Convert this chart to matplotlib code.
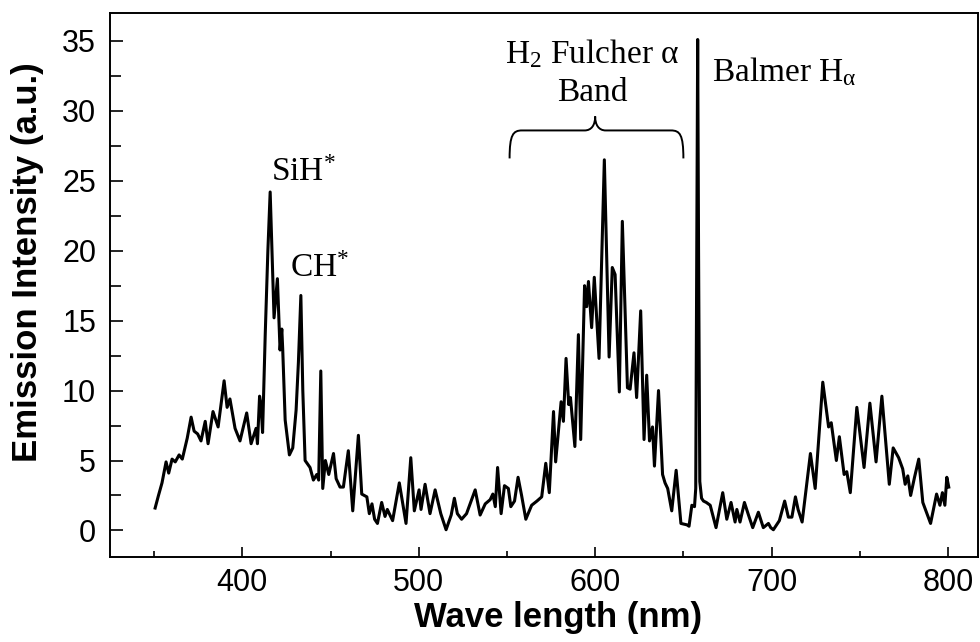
import numpy as np
import matplotlib.pyplot as plt
from matplotlib.path import Path
from matplotlib.patches import PathPatch
from matplotlib.ticker import MultipleLocator

# Spectrum (wavelength in nm, intensity in a.u.)
wavelength = [
    350.6, 352.5, 354.5, 356.8, 358.3, 360.2, 362.0, 364.2, 366.0, 368.8,
    371.0, 372.7, 374.7, 376.6, 379.0, 380.6, 383.4, 386.3, 389.7, 391.4,
    393.0, 395.9, 398.7, 402.5, 405.0, 407.8, 408.6, 409.8, 410.6, 411.5,
    413.0, 414.5, 415.8, 416.8, 418.0, 419.9, 421.4, 422.4, 422.9, 424.3,
    426.7, 428.6, 430.5, 431.8, 433.2, 434.3, 435.6, 438.4, 440.3, 442.2,
    443.3, 444.5, 445.6, 447.1, 449.0, 451.7, 453.2, 455.4, 457.3, 460.1,
    462.6, 465.8, 467.7, 470.6, 472.0, 473.5, 475.0, 476.6, 479.0, 480.9,
    482.2, 485.2, 489.0, 492.8, 495.5, 497.5, 500.2, 501.3, 503.6, 506.4,
    509.3, 512.5, 515.5, 518.4, 520.2, 521.9, 524.3, 527.1, 529.1, 532.0,
    534.8, 537.7, 540.5, 542.0, 543.4, 544.7, 546.7, 548.6, 550.8, 552.2,
    554.3, 556.3, 558.3, 560.7, 564.0, 567.0, 569.7, 572.0, 574.0, 576.4,
    577.6, 580.7, 582.0, 583.5, 585.0, 586.0, 588.5, 590.5, 591.8, 594.0,
    595.2, 596.2, 598.0, 599.5, 602.2, 605.2, 607.9, 609.7, 611.3, 613.7,
    615.4, 618.3, 619.8, 622.0, 623.5, 625.8, 627.7, 629.2, 630.8, 632.5,
    633.6, 635.9, 638.2, 639.6, 641.1, 643.4, 645.9, 648.6, 652.0, 653.2,
    654.8, 656.3, 657.0, 657.6, 658.1, 658.6, 659.3, 660.3, 661.4, 663.0,
    665.2, 668.5, 672.3, 674.6, 677.0, 679.3, 680.3, 682.1, 684.6, 686.9,
    689.3, 692.5, 695.3, 698.2, 699.5, 701.0, 704.4, 707.4, 709.5, 711.5,
    713.5, 715.0, 717.3, 722.0, 724.7, 729.0, 732.3, 733.8, 736.7, 738.4,
    741.1, 742.6, 744.6, 748.3, 752.4, 755.7, 759.2, 762.5, 766.7, 768.9,
    772.0, 774.3, 775.7, 777.2, 778.8, 781.0, 783.4, 785.7, 790.1, 793.5,
    795.4, 796.8, 798.2, 799.3, 800.4,
]
intensity = [
    1.6, 2.5, 3.4, 4.9, 4.1, 5.1, 4.9, 5.4, 5.1, 6.6,
    8.1, 7.1, 6.9, 6.4, 7.8, 6.2, 8.5, 7.4, 10.7, 8.8,
    9.4, 7.3, 6.4, 8.4, 6.2, 7.3, 6.2, 9.6, 9.0, 7.0,
    14.0, 20.0, 24.2, 20.0, 15.2, 18.0, 12.9, 14.4, 13.0, 7.9,
    5.4, 5.9, 8.6, 12.0, 16.8, 10.0, 5.0, 4.5, 3.6, 4.0,
    3.6, 11.4, 3.0, 5.0, 4.0, 5.5, 3.7, 3.1, 3.1, 5.7,
    1.4, 6.8, 2.6, 2.4, 1.2, 1.9, 0.8, 0.5, 2.0, 1.0,
    1.5, 0.7, 3.4, 0.5, 5.2, 1.4, 2.9, 1.5, 3.3, 1.2,
    2.9, 1.2, 0.05, 1.1, 2.3, 1.2, 0.8, 1.2, 1.9, 2.9,
    1.1, 1.9, 2.2, 2.6, 1.7, 4.5, 1.2, 3.2, 3.0, 1.7,
    2.1, 3.8, 2.5, 0.8, 1.8, 2.1, 2.4, 4.8, 2.7, 8.5,
    4.9, 9.2, 7.8, 12.3, 9.0, 9.5, 6.0, 14.0, 6.5, 17.5,
    16.0, 17.8, 14.5, 18.1, 12.3, 26.5, 12.4, 18.8, 18.3, 9.9,
    22.1, 10.2, 10.1, 12.7, 9.5, 15.7, 6.5, 11.1, 6.4, 7.4,
    4.6, 10.0, 4.0, 3.4, 3.0, 1.4, 4.3, 0.5, 0.4, 0.3,
    1.8, 1.7, 3.0, 20.0, 35.1, 20.0, 3.5, 2.3, 2.1, 2.0,
    1.8, 0.2, 2.7, 0.8, 2.0, 0.6, 1.5, 0.6, 2.0, 1.1,
    0.2, 1.3, 0.2, 0.5, 0.2, 0.05, 0.7, 2.1, 0.95, 0.95,
    2.4, 1.5, 0.6, 5.5, 3.0, 10.6, 7.4, 7.7, 5.0, 6.7,
    4.0, 4.2, 2.7, 8.8, 4.5, 9.1, 4.9, 9.6, 3.3, 5.9,
    5.2, 4.4, 3.3, 3.9, 2.5, 3.8, 5.1, 2.0, 0.5, 2.6,
    1.8, 2.7, 1.8, 3.8, 3.1,
]

plt.rcParams['mathtext.fontset'] = 'custom'
plt.rcParams['mathtext.rm'] = 'Liberation Serif'
plt.rcParams['mathtext.it'] = 'Liberation Serif:italic'

fig = plt.figure(figsize=(9.8, 6.42), dpi=100)
ax = fig.add_axes([0.1122, 0.1324, 0.8858, 0.8474])

ax.plot(wavelength, intensity, color='black', lw=2.2)

ax.set_xlim(325, 817)
ax.set_ylim(-1.9, 37)
ax.xaxis.set_major_locator(MultipleLocator(100))
ax.xaxis.set_minor_locator(MultipleLocator(50))
ax.yaxis.set_major_locator(MultipleLocator(5))
ax.yaxis.set_minor_locator(MultipleLocator(2.5))
ax.tick_params(which='both', direction='in', top=False, right=False,
               labelsize=22, width=1.2)
ax.tick_params(axis='y', which='major', length=9, pad=10)
ax.tick_params(axis='y', which='minor', length=8)
ax.tick_params(axis='x', which='major', length=7.5, pad=8)
ax.tick_params(axis='x', which='minor', length=4)
for lab in ax.get_xticklabels() + ax.get_yticklabels():
    lab.set_family('Liberation Sans')
for sp in ax.spines.values():
    sp.set_linewidth(1.4)

ax.set_xlabel('Wave length (nm)', fontsize=25, fontweight='bold',
              family='Liberation Sans')
ax.set_ylabel('Emission Intensity (a.u.)', fontsize=25, fontweight='bold',
              family='Liberation Sans')
ax.xaxis.set_label_coords(0.516, -0.080)
ax.yaxis.set_label_coords(-0.076, 0.542)

serif = dict(family='Liberation Serif', fontsize=24, color='black')
ax.text(434.5, 25.0, r'SiH$^{*}$', ha='center', va='baseline', **serif)
ax.text(444.0, 18.1, r'CH$^{*}$', ha='center', va='baseline', **serif)
ax.text(598.5, 33.4, r'H$_{\mathrm{2}}$ Fulcher α', ha='center', va='baseline', **serif)
ax.text(598.5, 30.7, 'Band', ha='center', va='baseline', **serif)
ax.text(666.3, 32.1, r'Balmer H$_{\mathrm{α}}$', ha='left', va='baseline', **serif)

# curly brace over the Fulcher band
verts = [(551.5, 26.6), (551.5, 28.3), (553.5, 28.6), (558.5, 28.6),
         (594, 28.6),
         (598, 28.6), (600, 29.0), (600, 29.6),
         (600, 29.0), (602, 28.6), (606, 28.6),
         (643, 28.6),
         (648, 28.6), (650, 28.3), (650, 26.6)]
codes = [Path.MOVETO, Path.CURVE4, Path.CURVE4, Path.CURVE4,
         Path.LINETO,
         Path.CURVE4, Path.CURVE4, Path.CURVE4,
         Path.CURVE4, Path.CURVE4, Path.CURVE4,
         Path.LINETO,
         Path.CURVE4, Path.CURVE4, Path.CURVE4]
ax.add_patch(PathPatch(Path(verts, codes), fill=False, lw=1.4, color='black'))

fig.savefig('out.png', dpi=100)
